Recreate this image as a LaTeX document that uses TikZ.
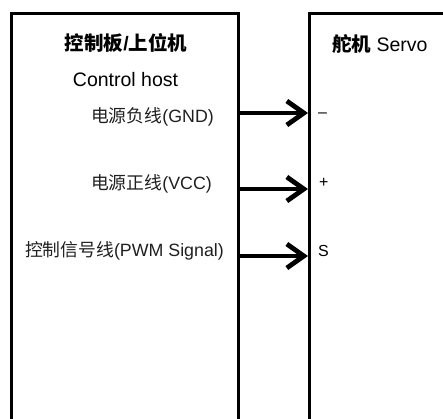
\documentclass[tikz,border=0pt]{standalone}
\usepackage{fontspec}
\setmainfont{Liberation Sans}
\newfontfamily\cjk{Noto Sans CJK SC}
\usetikzlibrary{arrows.meta}
\begin{document}
\begin{tikzpicture}[x=1pt,y=-1pt,
  box/.style={draw=black,line width=3.2pt,minimum width=#1,minimum height=460pt,anchor=north west,inner sep=0pt},
  wire/.style={line width=4.8pt,-{Straight Barb[length=17pt,width=24pt,line width=4.8pt]}},
  lbl/.style={anchor=east,inner sep=0pt,font=\fontsize{17.8}{20}\selectfont,text=black!88},
  pin/.style={anchor=west,inner sep=0pt,font=\fontsize{16}{19}\selectfont},
  ttl/.style={inner sep=0pt,font=\fontsize{19.5}{22}\selectfont}]
\useasboundingbox (0,0) rectangle (443,418);
\clip (0,0) rectangle (443,418);
\node[box=227pt] (host) at (9.5,11.5) {};
\node[box=200pt] (servo) at (308,11.5) {};
\node[ttl] (t1) at (126,43) {\cjk\bfseries 控制板\rmfamily\bfseries/\cjk\bfseries 上位机};
\node[ttl] (t2) at (125.5,80) {Control host};
\node[ttl,anchor=west] (t3) at (332,44) {{\cjk\bfseries 舵机} Servo};
\node[lbl] (l1) at (214,117) {{\cjk 电源负线}(GND)};
\node[lbl] (l2) at (212,184) {{\cjk 电源正线}(VCC)};
\node[lbl] (l3) at (224,251) {{\cjk 控制信号线}(PWM Signal)};
\coordinate (a1) at (240,113);
\coordinate (a2) at (240,189);
\coordinate (a3) at (240,256);
\draw[wire] (a1) -- (servo.west |- a1);
\draw[wire] (a2) -- (servo.west |- a2);
\draw[wire] (a3) -- (servo.west |- a3);
\node[pin] (p1) at (318,115) {–};
\node[pin] (p2) at (319,183) {+};
\node[pin] (p3) at (318,251) {S};
\end{tikzpicture}
\end{document}
